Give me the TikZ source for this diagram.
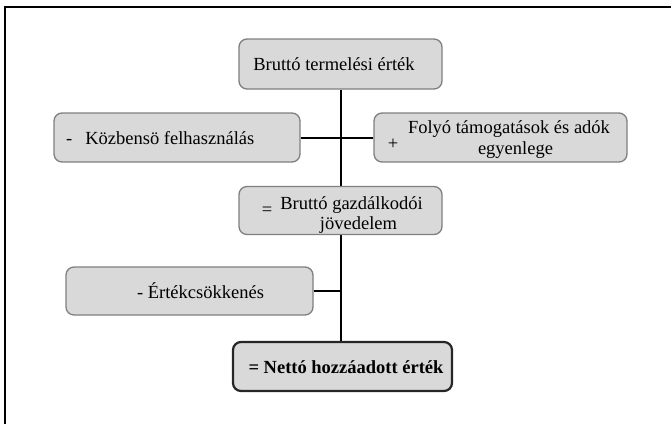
\documentclass[tikz,border=0pt]{standalone}
\usepackage{fontspec}
\setmainfont{Liberation Serif}
\usetikzlibrary{backgrounds}
\definecolor{boxfill}{HTML}{D9D9D9}
\definecolor{boxline}{HTML}{7F7F7F}
\begin{document}
\begin{tikzpicture}[x=1pt,y=-1pt,
  box/.style={draw=boxline,fill=boxfill,line width=1.3pt,rounded corners=8pt,inner sep=0pt},
  mainbox/.style={draw=black!85,fill=boxfill,line width=2.2pt,rounded corners=8pt,inner sep=0pt},
  txt/.style={font=\fontsize{18.5}{20}\selectfont,inner sep=0pt,anchor=base},
  conn/.style={line width=2pt,black}]
\useasboundingbox (0,0) rectangle (671,424);
\draw[line width=1.6pt] (5,424) -- (5,7) -- (671,7);
% boxes
\node[box,minimum width=203pt,minimum height=50pt] (b1) at (340.5,64) {};
\node[box,minimum width=246pt,minimum height=49pt] (b2) at (177,137.5) {};
\node[box,minimum width=253pt,minimum height=49pt] (b3) at (500.5,137.5) {};
\node[box,minimum width=203pt,minimum height=48pt] (b4) at (340.5,210.5) {};
\node[box,minimum width=247pt,minimum height=48pt] (b5) at (189.5,291) {};
\node[mainbox,minimum width=219pt,minimum height=49pt] (b6) at (342.5,366.5) {};
% texts
\node[txt] (t1) at (334,70) {Bruttó termelési érték};
\node[txt,anchor=base west] (t2) at (66,144) {-\hspace{0.7em}Közbensö felhasználás};
\node[txt] (t3a) at (509,133) {Folyó támogatások és adók};
\node[txt] (t3b) at (515.5,154) {egyenlege};
\node[txt] (t3p) at (393,149) {+};
\node[txt] (t4p) at (267,215) {=};
\node[txt] (t4a) at (351.5,209) {Bruttó gazdálkodói};
\node[txt] (t4b) at (358.5,229) {jövedelem};
\node[txt] (t5) at (200.5,298) {- Értékcsökkenés};
\node[txt,font=\fontsize{18.5}{20}\selectfont\bfseries] (t6) at (346,373) {= Nettó hozzáadott érték};
% connectors
\begin{scope}[on background layer]
\draw[conn] (b1.south -| 341,0) -- (b6.north -| 341,0);
\draw[conn] (b2.east) -- (b3.west);
\draw[conn] (b5.east) -- (b5.east -| 341,0);
\end{scope}
\end{tikzpicture}
\end{document}
